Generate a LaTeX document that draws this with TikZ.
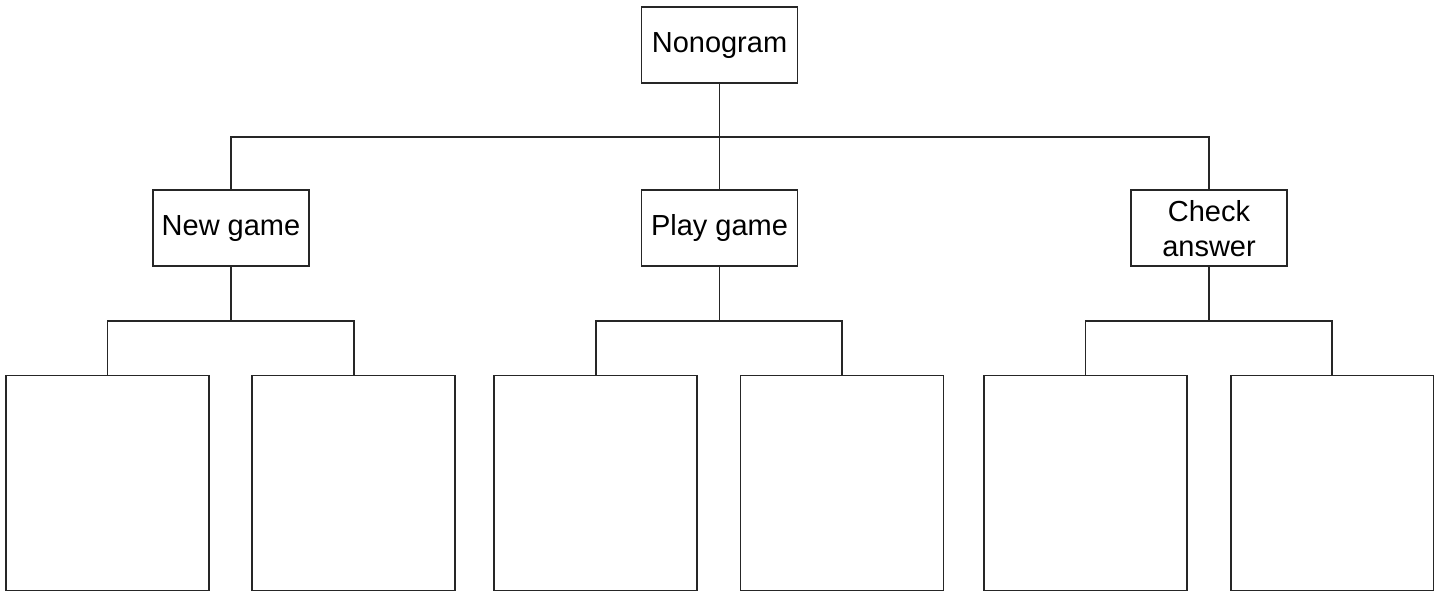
\documentclass[tikz,border=0pt]{standalone}
\usepackage{fontspec}
\setmainfont{Liberation Sans}

\begin{document}
\begin{tikzpicture}[x=0.02cm, y=-0.02cm]

%-------------------------------------------------
% Styles
%-------------------------------------------------
\tikzset{
  menu/.style={draw=black!85, line width=1.1pt, fill=white, align=center,
    minimum width=3.12cm, minimum height=1.52cm, inner sep=1pt,
    font=\fontsize{16.5}{20}\selectfont},
  leaf/.style={draw=black!85, line width=1.1pt, fill=white,
    minimum width=4.06cm, minimum height=4.3cm},
  link/.style={draw=black!85, line width=1.1pt}
}

\useasboundingbox (0,0) rectangle (1443,595);

%-------------------------------------------------
% Top and second level
%-------------------------------------------------
\node[menu] (root) at (719.5,45.3) {Nonogram};

\node[menu] (new)   at (231,228.3)  {New game};
\node[menu] (play)  at (719.5,228.3) {Play game};
\node[menu] (check) at (1209,228.3) {Check\\answer};

%-------------------------------------------------
% Empty boxes
%-------------------------------------------------
\foreach \x/\n in {107.5/l1, 353.8/l2, 595.9/l3, 842/l4, 1085.5/l5, 1332/l6} {
  \node[leaf] (\n) at (\x,483) {};
}

%-------------------------------------------------
% Connectors
%-------------------------------------------------
\draw[link] (root.south) -- ++(0,52.7) -| (new.north);
\draw[link] (root.south) -- (play.north);
\draw[link] (root.south) -- ++(0,52.7) -| (check.north);

\draw[link] (new.south) -- ++(0,53.3) -| (l1.north);
\draw[link] (new.south) -- ++(0,53.3) -| (l2.north);
\draw[link] (play.south) -- ++(0,53.3) -| (l3.north);
\draw[link] (play.south) -- ++(0,53.3) -| (l4.north);
\draw[link] (check.south) -- ++(0,53.3) -| (l5.north);
\draw[link] (check.south) -- ++(0,53.3) -| (l6.north);

\end{tikzpicture}
\end{document}
